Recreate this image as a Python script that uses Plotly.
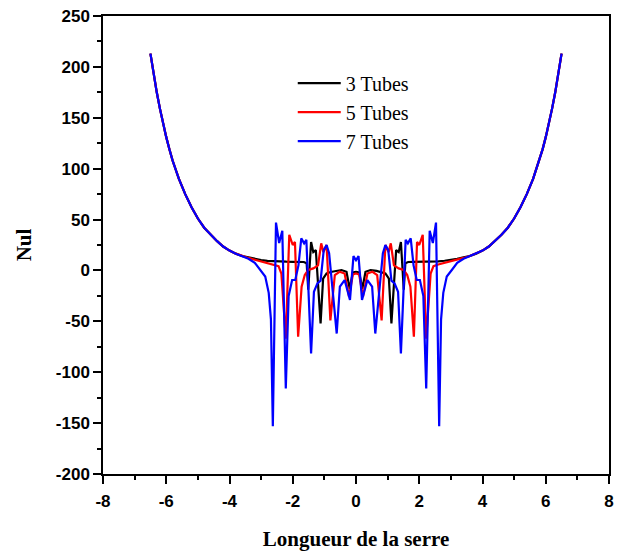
import plotly.graph_objects as go

# Outer branch shared by all three configurations (left and right ends)
edge_left_x = [-6.5, -6.4, -6.3, -6.2, -6.1, -6.0, -5.9, -5.8, -5.6, -5.4, -5.2,
               -5.0, -4.8, -4.6, -4.4, -4.2, -4.0, -3.8, -3.6]
edge_left_y = [213, 192, 175, 159, 144, 131, 119, 108, 90, 75, 62,
               51, 42, 35, 29, 23.5, 19.5, 16.5, 14.2]
edge_right_x = [3.6, 3.8, 4.0, 4.2, 4.4, 4.6, 4.8, 5.0, 5.2, 5.4, 5.6,
                5.8, 5.9, 6.0, 6.1, 6.2, 6.3, 6.4, 6.5]
edge_right_y = [14.2, 16.5, 19.5, 23.5, 29, 35, 42, 51, 62, 75, 90,
                108, 119, 131, 144, 159, 175, 192, 213]

# 3 tubes - central part
t3_x = [-3.4, -3.2, -3.0, -2.8, -2.6, -2.4, -2.2, -2.0, -1.8, -1.65, -1.56, -1.51,
        -1.42, -1.35, -1.27, -1.12, -1.04, -0.93, -0.8, -0.65, -0.46, -0.3, -0.2,
        -0.1, 0.0,
        0.1, 0.2, 0.3, 0.46, 0.65, 0.8, 0.93, 1.04, 1.12, 1.27, 1.35, 1.42,
        1.51, 1.56, 1.65, 1.8, 2.0, 2.2, 2.4, 2.6, 2.8, 3.0, 3.2, 3.4]
t3_y = [12.8, 11.3, 10.2, 9.5, 9.0, 8.7, 8.6, 8.5, 8.5, 8.3, 7.0, -19,
        28, 18, 20, -52, -8, -3, -1.5, -0.5, 0.4, -1.3, -18,
        -2, -1.5,
        -2, -18, -1.3, 0.4, -0.5, -1.5, -3, -8, -52, 20, 18, 28,
        -19, 7.0, 8.3, 8.5, 8.5, 8.6, 8.7, 9.0, 9.5, 10.2, 11.3, 12.8]

# 5 tubes - central part
t5_x = [-3.4, -3.2, -3.0, -2.8, -2.6, -2.45, -2.36, -2.22, -2.11, -2.0, -1.93,
        -1.83, -1.72, -1.62, -1.51, -1.35, -1.2, -1.1, -1.03, -0.93, -0.81,
        -0.67, -0.52, -0.36, -0.22, -0.1, 0.0,
        0.1, 0.22, 0.36, 0.52, 0.67, 0.81, 0.93, 1.03, 1.1, 1.2, 1.35, 1.51,
        1.62, 1.72, 1.83, 1.93, 2.0, 2.11, 2.22, 2.36, 2.45, 2.6, 2.8, 3.0,
        3.2, 3.4]
t5_y = [12.3, 10.5, 8.8, 7.3, 5.8, 4.2, -3, -67, 35, 25, 28,
        -65, -16, -4.5, 0.4, 2, 5, 26.6, 18, 25, -49,
        -4.5, -1.3, -3, -26, -4, -3,
        -4, -26, -3, -1.3, -4.5, -49, 25, 18, 26.6, 5, 2, 0.4,
        -4.5, -16, -65, 28, 25, 35, -67, -3, 4.2, 5.8, 7.3, 8.8,
        10.5, 12.3]

# 7 tubes - central part
t7_x = [-3.4, -3.2, -3.03, -2.87, -2.76, -2.69, -2.63, -2.53, -2.43, -2.33,
        -2.22, -2.13, -2.02, -1.92, -1.82, -1.73, -1.64, -1.57, -1.42, -1.33,
        -1.22, -1.12, -1.02, -0.93, -0.85, -0.61, -0.51, -0.36, -0.19, -0.08,
        0.0,
        0.08, 0.19, 0.36, 0.51, 0.61, 0.85, 0.93, 1.02, 1.12, 1.22, 1.33,
        1.42, 1.57, 1.64, 1.73, 1.82, 1.92, 2.02, 2.13, 2.22, 2.33, 2.43,
        2.53, 2.63, 2.69, 2.76, 2.87, 3.03, 3.2, 3.4]
t7_y = [11.5, 7.5, 0.4, -6, -22, -48, -153, 47, 27, 39,
        -116, -25, -9.4, -9.4, 5, 31.5, 26.6, 30, -81.5, -21,
        -12.7, -10, 20, 25, 17, -62, -16, -9.4, -29, 14,
        10,
        14, -29, -9.4, -16, -62, 17, 25, 20, -10, -12.7, -21,
        -81.5, 30, 26.6, 31.5, 5, -9.4, -9.4, -25, -116, 39, 27,
        47, -153, -48, -22, -6, 0.4, 7.5, 11.5]

# Axis tick positions and labels (plain hyphen for negatives)
x_ticks = [-8, -6, -4, -2, 0, 2, 4, 6, 8]
x_tick_text = ["-8", "-6", "-4", "-2", "0", "2", "4", "6", "8"]
y_ticks = [-200, -150, -100, -50, 0, 50, 100, 150, 200, 250]
y_tick_text = ["-200", "-150", "-100", "-50", "0", "50", "100", "150", "200", "250"]

series = [
    ("3 Tubes", t3_x, t3_y, "#000000"),
    ("5 Tubes", t5_x, t5_y, "#ff0000"),
    ("7 Tubes", t7_x, t7_y, "#0000ff"),
]

fig = go.Figure()
for name, xs, ys, color in series:
    fig.add_trace(go.Scatter(
        x=edge_left_x + xs + edge_right_x,
        y=edge_left_y + ys + edge_right_y,
        mode="lines", name=name,
        line=dict(color=color, width=2.2),
    ))

serif = "Liberation Serif, Times New Roman, serif"
sans = "Liberation Sans Narrow, Arial Narrow, Liberation Sans, Arial, sans-serif"

axis_common = dict(
    showline=True, linecolor="black", linewidth=1.5, mirror=True,
    ticks="outside", ticklen=8, tickwidth=1.5, tickcolor="black",
    showgrid=False, zeroline=False, automargin=False,
    tickfont=dict(family=sans, size=17, color="black", weight="bold"),
    minor=dict(ticks="outside", ticklen=4, tickwidth=1.5, tickcolor="black"),
)

fig.update_xaxes(
    range=[-8, 8], tickmode="array", tickvals=x_ticks, ticktext=x_tick_text,
    minor_dtick=1, minor_tick0=-8, ticklabelstandoff=3,
    title=dict(text="Longueur de la serre", standoff=21,
               font=dict(family=serif, size=21, color="black", weight="bold")),
    **axis_common,
)
fig.update_yaxes(
    range=[-200, 250], tickmode="array", tickvals=y_ticks, ticktext=y_tick_text,
    minor_dtick=25, minor_tick0=-200,
    title=dict(text="Nul", standoff=18,
               font=dict(family=serif, size=21, color="black", weight="bold")),
    **axis_common,
)

fig.update_layout(
    width=617, height=554,
    margin=dict(l=103, r=8, t=16, b=80),
    paper_bgcolor="white", plot_bgcolor="white",
    legend=dict(x=0.375, y=0.896, xanchor="left", yanchor="top",
                bgcolor="rgba(0,0,0,0)", itemwidth=43, tracegroupgap=0,
                font=dict(family=serif, size=20, color="black")),
)

fig.write_html("out.html")
